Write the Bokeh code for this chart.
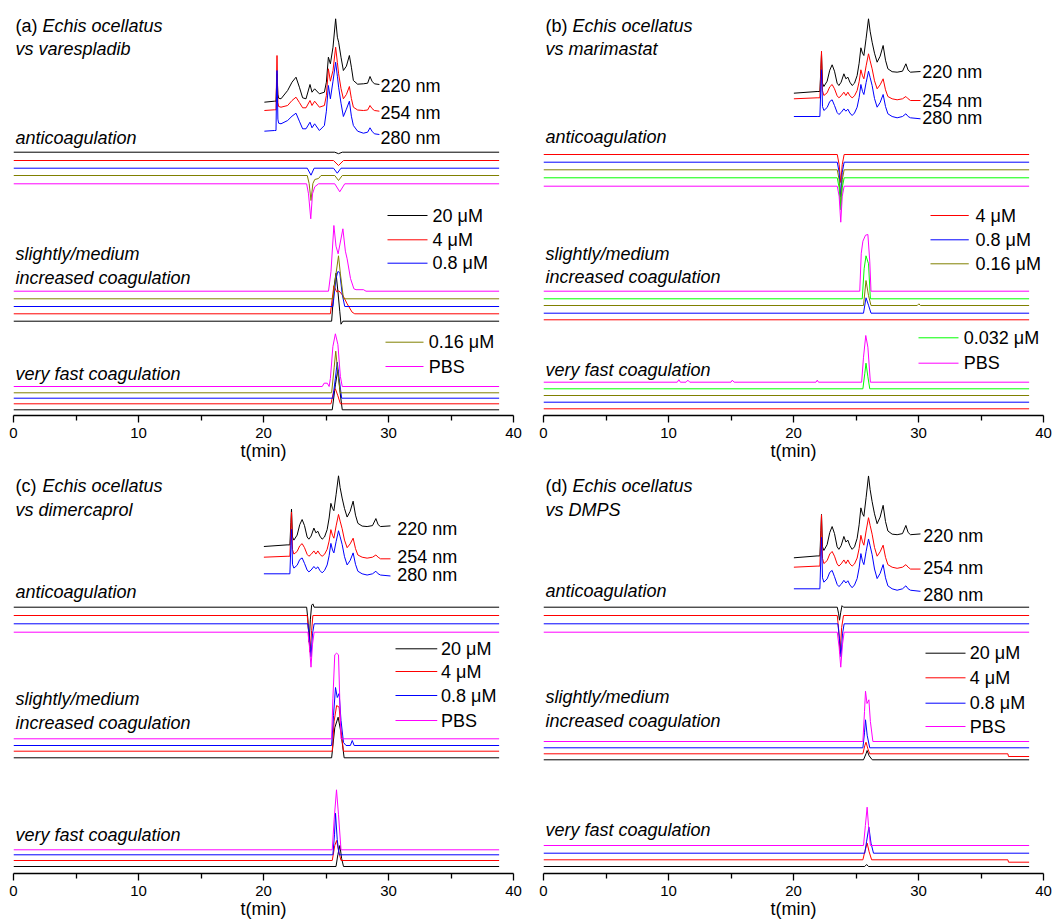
from bokeh.plotting import figure
from bokeh.layouts import column, row
from bokeh.models import Range1d, FixedTicker
from bokeh.embed import file_html
from bokeh.resources import INLINE
from bokeh.core.properties import value

FONT = "Liberation Sans"
K, R, B, O, M, G = "#000000", "#ff0000", "#0000ff", "#808000", "#ff00ff", "#00ff00"
T_END = 38.85

x_ticks = [0, 10, 20, 30, 40]
x_minor = [5, 15, 25, 35]

# ---------------- UV chromatograms (220 / 254 / 280 nm) ----------------
# panel (a): its own recording
uva_t = [20.07, 20.87, 21.0, 21.04, 21.08, 21.15, 21.21, 21.4, 21.93, 22.28, 22.6, 22.87, 23.13,
         23.4, 23.72, 23.88, 24.09, 24.47, 24.87, 25.03, 25.19, 25.35, 25.56, 25.77, 25.91, 26.01,
         26.2, 26.39, 26.63, 26.87, 27.03, 27.19, 27.53, 27.99, 28.33, 28.52, 28.68, 28.87, 29.27]
uva_220 = [0, 1, 1, 15, 28.4, 8, 4, 3.4, 11.7, 20, 25, 15, 4.4, 3.4, 17.7, 10, 13.4, 8.4, 10, 20,
           45, 38.4, 55, 83.4, 65, 60, 45, 31.7, 36, 46.7, 35, 21.7, 18, 18.4, 19, 25.7, 21, 18.4,
           17.7]
uva_254 = [0, 0.7, 0.7, 30, 55, 8, 4, 3.3, 5, 10, 13.3, 8, 2.7, 2.7, 10, 5, 9.3, 3.3, 5, 15, 41.7,
           29.3, 40, 63.3, 48, 36.7, 22, 11.7, 16, 24, 12, 3.3, 0.5, 0, 0.5, 5, 2, 0, -0.7]
uva_280 = [0, 0.7, 0.7, 35, 60.7, 12, 8, 7.4, 10.7, 15, 18, 10, 2.4, 2.4, 9, 3.4, 7.4, 0.7, 5.7, 20,
           45.7, 32.4, 50, 69, 55, 44, 28, 14.7, 22, 30, 15, 5.7, 0, -2, -1, 3.4, 0, -2.6, -3.3]

# panels (b), (c), (d): the same recording
uv_t = [20.03, 21.89, 22.11, 22.19, 22.24, 22.32, 22.43, 22.69, 22.9, 23.09, 23.28, 23.49, 23.63,
        23.81, 24.03, 24.19, 24.35, 24.51, 24.69, 24.88, 25.09, 25.25, 25.39, 25.52, 25.63, 25.81,
        26.0, 26.13, 26.29, 26.48, 26.69, 26.93, 27.17, 27.36, 27.55, 27.89, 28.29, 28.72, 28.99,
        29.17, 29.36, 30.16]
uv_220 = [0, 1.7, 1.7, 25, 39.4, 10, 6.7, 12, 23, 28.4, 22, 10, 7.7, 11, 19.4, 14.4, 16, 11, 7.7,
          10, 17.7, 30, 45.4, 40, 37.7, 55, 74.4, 62, 51, 40, 31, 37, 47.7, 33, 24.4, 21.5, 21, 22,
          29.4, 23, 21, 21.7]
uv_254 = [0, 1, 1, 30, 47.6, 8, 3.3, 6, 12, 14.3, 10, 3, 1, 3, 6.6, 3.3, 6.6, 3, 1, 3, 8.3, 17, 29,
          23, 20, 33, 45, 38, 30, 18, 10, 14, 20, 9, 2.3, 0, -1, 0, 2.3, 0, -1.7, -1.7]
uv_280 = [0, 0, 0, 30, 46.7, 10, 6, 9, 15, 16.7, 11, 4, 2, 4, 7.7, 5.3, 7.3, 3.5, 1, 3.5, 9.3, 19,
          32, 25, 22, 34, 45.3, 39, 31, 18, 9.3, 14, 22, 10, 2.7, 0, -1.3, 0, 2.7, 0, -1.3, -2.3]

uv_labels = ["220 nm", "254 nm", "280 nm"]

# ---------------- bioassay traces: (colour, baseline, [(t, deviation), ...]) ----------------
bio_a = [
    (K, 263.3, [(25.7, 0), (26.0, -1.5), (26.3, 0)]),
    (R, 255.0, [(25.6, 0), (26.0, -5), (26.4, 0)]),
    (B, 247.3, [(23.5, 0), (23.8, -7), (24.05, 0), (25.6, 0), (25.9, -5), (26.2, 0)]),
    (O, 240.0, [(23.5, 0), (23.65, -8), (23.8, -25), (23.95, -8), (24.1, -4), (24.4, -3), (24.6, 0),
                (25.7, 0), (26.0, -5), (26.3, 0)]),
    (M, 231.7, [(23.45, 0), (23.6, -10), (23.78, -35), (23.92, -10), (24.1, -3), (24.4, 0),
                (25.7, 0), (26.1, -8), (26.5, 0)]),
    (K, 94.3, [(25.45, 0), (25.65, 35), (25.8, 48), (25.95, 30), (26.1, 10), (26.2, -3), (26.35, 0)]),
    (R, 101.7, [(25.35, 0), (25.63, 28), (25.85, 22), (26.03, 23), (26.37, 18), (26.69, 10),
                (27.09, 1.6), (27.3, 0)]),
    (B, 109.0, [(25.55, 0), (25.8, 28), (25.95, 35), (26.1, 34), (26.3, 12), (26.5, 0)]),
    (O, 116.7, [(25.55, 0), (25.8, 25), (26.0, 43), (26.15, 25), (26.4, 0)]),
    (M, 124.3, [(25.2, 0), (25.4, 20), (25.63, 65.7), (25.8, 45), (25.97, 37.4), (26.35, 62.4),
                (26.55, 40), (26.69, 32.4), (26.96, 12.7), (27.23, 2.4), (27.4, 1.5), (28.0, 1.5),
                (28.2, 0)]),
    (K, 5.7, [(25.5, 0), (25.75, 25), (25.95, 40), (26.1, 20), (26.3, 0)]),
    (R, 11.7, [(25.4, 0), (25.6, 12), (25.75, 15), (25.95, 8), (26.15, 0)]),
    (B, 17.3, [(25.55, 0), (25.75, 20), (25.9, 36), (26.05, 20), (26.25, 0)]),
    (O, 22.7, [(25.45, 0), (25.65, 25), (25.78, 41.6), (25.95, 20), (26.15, 0)]),
    (M, 29.0, [(24.7, 0), (24.85, 3.3), (25.1, 3.3), (25.25, 0), (25.35, 8), (25.55, 40),
               (25.75, 52.7), (25.95, 42), (26.15, 10), (26.3, 0)]),
]

bio_b = [
    (R, 261.0, [(23.5, 0), (23.65, -10), (23.78, -28), (23.9, -10), (24.05, 0)]),
    (B, 253.3, [(23.5, 0), (23.65, -10), (23.78, -35), (23.9, -10), (24.05, 0)]),
    (O, 245.7, [(23.5, 0), (23.65, -10), (23.78, -36), (23.9, -10), (24.05, 0)]),
    (G, 237.7, [(23.5, 0), (23.65, -10), (23.78, -32), (23.9, -10), (24.05, 0)]),
    (M, 229.3, [(23.5, 0), (23.65, -10), (23.78, -36), (23.9, -10), (24.05, 0)]),
    (R, 95.7, []),
    (B, 102.3, [(25.6, 0), (25.8, 15.4), (26.0, 8), (26.2, 0)]),
    (O, 110.0, [(25.6, 0), (25.8, 25), (26.0, 10), (26.2, 0), (29.9, 0), (30.03, 1.7), (30.15, 0)]),
    (G, 116.7, [(25.5, 0), (25.65, 30), (25.8, 43), (26.0, 35), (26.15, 0)]),
    (M, 124.3, [(25.3, 0), (25.42, 38), (25.55, 50), (25.76, 56), (25.95, 56.7), (26.1, 30),
                (26.2, 0)]),
    (R, 6.7, []),
    (B, 13.3, []),
    (O, 20.0, []),
    (G, 26.7, [(25.55, 0), (25.7, 15), (25.8, 25.6), (25.95, 12), (26.1, 0)]),
    (M, 33.3, [(10.7, 0), (10.83, 2.5), (10.95, 0), (11.4, 0), (11.55, 2), (11.7, 0), (15.0, 0),
               (15.1, 2), (15.25, 0), (21.8, 0), (21.9, 2), (22.0, 0), (25.45, 0), (25.6, 25),
               (25.78, 46.7), (25.95, 35), (26.15, 0)]),
]

bio_c = [
    (K, 266.3, [(23.45, 0), (23.55, -12), (23.65, -35), (23.75, -12), (23.85, 2), (23.95, 3.3),
                (24.05, 0)]),
    (R, 258.0, [(23.5, 0), (23.6, -15), (23.72, -36.7), (23.85, -15), (23.95, 0)]),
    (B, 249.7, [(23.55, 0), (23.68, -15), (23.8, -33), (23.92, -10), (24.05, 0)]),
    (M, 241.3, [(23.55, 0), (23.68, -15), (23.8, -35), (23.92, -12), (24.05, 0)]),
    (K, 115.7, [(25.45, 0), (25.7, 30), (25.97, 40.6), (26.2, 25), (26.45, 0)]),
    (R, 122.3, [(25.5, 0), (25.65, 30), (25.85, 45.7), (26.05, 44), (26.2, 20), (26.4, 0)]),
    (B, 128.0, [(25.45, 0), (25.6, 30), (25.76, 58), (25.9, 48), (26.05, 52), (26.2, 25),
                (26.4, 3), (26.6, 0), (26.95, 0), (27.1, 5), (27.25, 0)]),
    (M, 134.7, [(25.45, 0), (25.55, 40), (25.7, 84), (25.85, 85.6), (26.0, 84), (26.1, 40),
                (26.2, 0)]),
    (K, 7.0, [(25.8, 0), (25.95, 12), (26.11, 21), (26.25, 8), (26.4, 0)]),
    (R, 13.0, [(25.5, 0), (25.7, 15), (25.85, 20), (26.0, 10), (26.2, 0)]),
    (B, 18.7, [(25.55, 0), (25.68, 20), (25.76, 41.6), (25.9, 15), (26.05, 0)]),
    (M, 23.7, [(25.5, 0), (25.65, 30), (25.84, 60), (26.0, 35), (26.2, 0)]),
]

bio_d = [
    (K, 266.3, [(23.5, 0), (23.6, -6), (23.68, -13), (23.78, -5), (23.88, 1.5), (24.0, 0)]),
    (R, 258.0, [(23.5, 0), (23.62, -15), (23.72, -38), (23.85, -12), (24.0, 0)]),
    (B, 249.7, [(23.55, 0), (23.68, -15), (23.8, -33), (23.92, -10), (24.05, 0)]),
    (M, 241.3, [(23.5, 0), (23.65, -15), (23.78, -35), (23.92, -12), (24.05, 0)]),
    (K, 113.7, [(25.6, 0), (25.8, 6), (25.89, 9.3), (26.05, 4), (26.3, 0)]),
    (R, 119.7, [(25.55, 0), (25.7, 8), (25.8, 11.6), (25.95, 5), (26.1, 0), (37.15, 0),
                (37.2, -2.7), (T_END, -2.7)]),
    (B, 125.7, [(25.55, 0), (25.68, 15), (25.76, 28), (25.9, 12), (26.1, 0)]),
    (M, 132.0, [(25.55, 0), (25.68, 30), (25.76, 50.3), (25.88, 38), (26.03, 41.7), (26.15, 20),
                (26.35, 0)]),
    (K, 7.0, [(25.7, 0), (25.85, 2), (26.0, 0)]),
    (R, 13.7, [(25.55, 0), (25.7, 8), (25.89, 16.7), (26.05, 8), (26.25, 0), (37.15, 0),
               (37.2, -2.4), (T_END, -2.4)]),
    (B, 20.3, [(25.7, 0), (25.85, 12), (26.03, 26), (26.2, 10), (26.4, 0)]),
    (M, 28.0, [(25.6, 0), (25.75, 20), (25.89, 38.3), (26.0, 20), (26.15, 0)]),
]

# ---------------- panel texts / legends ----------------
panels = {
    "a": dict(tag="(a)", species="Echis ocellatus", drug="vs varespladib",
              title_h=(390, 367), anti_h=278, slight_h=(162, 138), fast_h=42,
              uv=(uva_t, (uva_220, uva_254, uva_280)), uv_base=(313.3, 305.0, 284.3), uv_scale=1.0,
              uv_lab_x=29.36, uv_lab_h=(330, 303, 278), bio=bio_a,
              legend=[("20 \u03bcM", K, 200.0, 29.92, 33.12, 33.52),
                      ("4 \u03bcM", R, 175.7, 29.92, 33.12, 33.52),
                      ("0.8 \u03bcM", B, 152.3, 29.92, 33.12, 33.52),
                      ("0.16 \u03bcM", O, 73.3, 29.76, 32.8, 33.22),
                      ("PBS", M, 49.0, 29.76, 32.8, 33.22)]),
    "b": dict(tag="(b)", species="Echis ocellatus", drug="vs marimastat",
              title_h=(390, 366.7), anti_h=278.3, slight_h=(161.7, 138.3), fast_h=45.7,
              uv=(uv_t, (uv_220, uv_254, uv_280)), uv_base=(322.3, 316.7, 299.0), uv_scale=1.0,
              uv_lab_x=30.3, uv_lab_h=(343.3, 315, 297.7), bio=bio_b,
              legend=[("4 \u03bcM", R, 200.0, 30.96, 34.02, 34.56),
                      ("0.8 \u03bcM", B, 175.7, 30.96, 34.02, 34.56),
                      ("0.16 \u03bcM", O, 151.7, 30.96, 34.02, 34.56),
                      ("0.032 \u03bcM", G, 77.7, 30.0, 33.2, 33.62),
                      ("PBS", M, 52.3, 30.0, 33.2, 33.62)]),
    "c": dict(tag="(c)", species="Echis ocellatus", drug="vs dimercaprol",
              title_h=(388, 363.7), anti_h=281.3, slight_h=(174.7, 150.3), fast_h=39,
              uv=(uv_t, (uv_220, uv_254, uv_280)), uv_base=(327.0, 316.3, 299.7), uv_scale=0.95,
              uv_lab_x=30.7, uv_lab_h=(344.7, 316.3, 299), bio=bio_c,
              legend=[("20 \u03bcM", K, 224.7, 30.56, 33.9, 34.2),
                      ("4 \u03bcM", R, 202.0, 30.56, 33.9, 34.2),
                      ("0.8 \u03bcM", B, 178.0, 30.56, 33.9, 34.2),
                      ("PBS", M, 153.0, 30.56, 33.9, 34.2)]),
    "d": dict(tag="(d)", species="Echis ocellatus", drug="vs DMPS",
              title_h=(388, 363.7), anti_h=283, slight_h=(177, 152.3), fast_h=43.7,
              uv=(uv_t, (uv_220, uv_254, uv_280)), uv_base=(315.7, 306.3, 284.7), uv_scale=1.1,
              uv_lab_x=30.38, uv_lab_h=(338, 305.7, 279), bio=bio_d,
              legend=[("20 \u03bcM", K, 220.3, 30.56, 33.76, 34.1),
                      ("4 \u03bcM", R, 195.7, 30.56, 33.76, 34.1),
                      ("0.8 \u03bcM", B, 170.3, 30.56, 33.76, 34.1),
                      ("PBS", M, 147.0, 30.56, 33.76, 34.1)]),
}

# figure geometry: width, height, border left, border right, border bottom, frame height
geom = {
    "a": (530, 465, 13, 17, 50, 415),
    "b": (530, 465, 13, 17, 50, 415),
    "c": (530, 457, 13, 17, 49, 408),
    "d": (530, 457, 13, 17, 49, 408),
}


def trace_xy(base, feats):
    ts = [f[0] for f in feats]
    hs = [f[1] for f in feats]
    if not ts or ts[0] > 0:
        ts = [0.0] + ts
        hs = [0.0] + hs
    if ts[-1] < T_END:
        ts = ts + [T_END]
        hs = hs + [0.0]
    return ts, [base + h for h in hs]


def txt(p, x, y, s, size="18px", style="normal", color="black"):
    p.text(x=[x], y=[y], text=[s], text_font=value(FONT), text_font_size=size,
           text_font_style=style, text_color=color, text_baseline="middle", text_align="left")


def make_panel(key):
    cfg = panels[key]
    w, h, bl, br, bb, fh = geom[key]
    p = figure(width=w, height=h, x_range=Range1d(0, 40), y_range=Range1d(0, fh),
               output_backend="svg", toolbar_location=None, y_axis_location=None,
               min_border_left=bl, min_border_right=br, min_border_top=0, min_border_bottom=bb)
    p.grid.visible = False
    p.outline_line_color = None
    p.background_fill_color = "white"
    p.border_fill_color = "white"

    ax = p.xaxis[0]
    ax.ticker = FixedTicker(ticks=x_ticks, minor_ticks=x_minor)
    ax.axis_label = "t(min)"
    ax.axis_label_text_font = FONT
    ax.axis_label_text_font_size = "18px"
    ax.axis_label_text_font_style = "normal"
    ax.axis_label_text_color = "black"
    ax.axis_label_standoff = 0
    ax.major_label_text_font = FONT
    ax.major_label_text_font_size = "15px"
    ax.major_label_text_color = "black"
    ax.major_label_standoff = 5
    ax.axis_line_color = "black"
    ax.axis_line_width = 1.3
    ax.major_tick_line_color = "black"
    ax.major_tick_line_width = 1.3
    ax.major_tick_in = 0
    ax.major_tick_out = 7
    ax.minor_tick_line_color = "black"
    ax.minor_tick_line_width = 1.3
    ax.minor_tick_in = 0
    ax.minor_tick_out = 5

    # bioassay traces
    for color, base, feats in cfg["bio"]:
        xs, ys = trace_xy(base, feats)
        p.line(xs, ys, line_color=color, line_width=1)

    # UV traces
    ut, uvals = cfg["uv"]
    for vals, base, color in zip(uvals, cfg["uv_base"], (K, R, B)):
        p.line(ut, [base + cfg["uv_scale"] * v for v in vals], line_color=color, line_width=1)
    for lab, hh in zip(uv_labels, cfg["uv_lab_h"]):
        txt(p, cfg["uv_lab_x"], hh, lab)

    # titles and group labels
    txt(p, 0.16, cfg["title_h"][0], cfg["tag"])
    txt(p, 2.32, cfg["title_h"][0], cfg["species"], style="italic")
    txt(p, 0.16, cfg["title_h"][1], cfg["drug"], style="italic")
    txt(p, 0.16, cfg["anti_h"], "anticoagulation", style="italic")
    txt(p, 0.16, cfg["slight_h"][0], "slightly/medium", style="italic")
    txt(p, 0.16, cfg["slight_h"][1], "increased coagulation", style="italic")
    txt(p, 0.16, cfg["fast_h"], "very fast coagulation", style="italic")

    # legend
    for lab, color, hh, x0, x1, xt in cfg["legend"]:
        p.segment(x0=[x0], y0=[hh], x1=[x1], y1=[hh], line_color=color, line_width=1)
        txt(p, xt, hh, lab)
    return p


layout = column(row(make_panel("a"), make_panel("b")), row(make_panel("c"), make_panel("d")))
open("out.html", "w").write(file_html(layout, INLINE))
